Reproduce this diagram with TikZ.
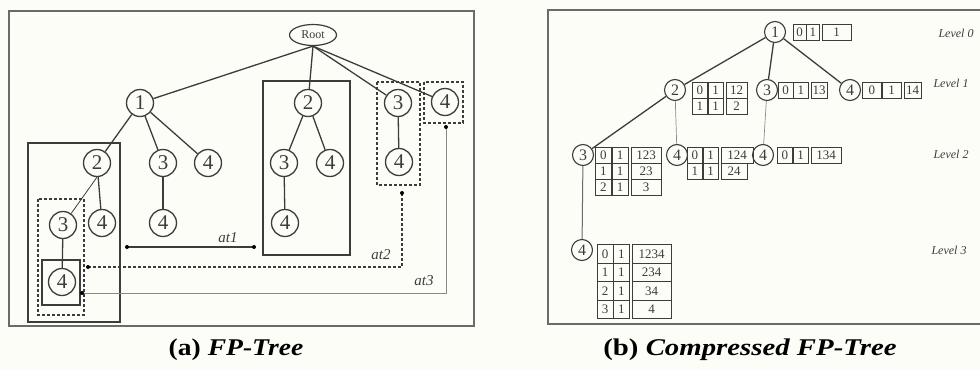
\documentclass[tikz,border=0pt]{standalone}
\usepackage{fontspec}
\setmainfont{Liberation Serif}
\usetikzlibrary{shapes.geometric}
\definecolor{lc}{HTML}{3C3C3C}
\definecolor{fc}{HTML}{6A6A6A}
\definecolor{tc}{HTML}{8A8A8A}
\definecolor{bg}{HTML}{FDFDF8}
\newcommand{\fprow}[8]{%
  \node[cell,minimum width=#7pt] (#1a) at (#2,#3) {#4};
  \node[cell,minimum width=#7pt] (#1b) at (#1a.east) {#5};
  \node[cell,minimum width=#8pt] (#1c) at ([xshift=2pt]#1b.east) {#6};
}
\begin{document}
\begin{tikzpicture}[x=1pt,y=-1pt,
  frame/.style={draw=fc,line width=1.6pt},
  edge/.style={draw=lc,line width=1.3pt},
  thinedge/.style={draw=tc,line width=0.7pt},
  fpn/.style={circle,draw=lc,line width=1.3pt,minimum size=27pt,inner sep=0pt,font=\fontsize{21}{21}\selectfont,text=lc},
  cn/.style={circle,draw=lc,line width=1.1pt,minimum size=21pt,inner sep=0pt,font=\fontsize{16}{16}\selectfont,text=lc},
  cell/.style={draw=lc,line width=0.8pt,minimum height=16pt,inner sep=0pt,anchor=west,font=\fontsize{13}{13}\selectfont,text=lc},
  sbox/.style={draw=lc,line width=1.2pt},
  dbox/.style={draw=lc,line width=1.1pt,dash pattern=on 3pt off 2pt},
  atlab/.style={font=\itshape\fontsize{15}{15}\selectfont,text=lc},
  lvl/.style={font=\itshape\fontsize{12}{12}\selectfont,text=lc,anchor=west},
  captext/.style={font=\bfseries\fontsize{24}{24}\selectfont,text=black},
  dotend/.style={circle,fill=black,inner sep=0pt,minimum size=4pt}]
\useasboundingbox (0,0) rectangle (980,370);
\clip (0,0) rectangle (980,370);
\fill[bg] (0,0) rectangle (980,370);

% ---------------- (a) FP-Tree ----------------
\draw[frame] (9,11) rectangle (474,326);
\node[ellipse,draw=lc,line width=1.2pt,minimum width=47pt,minimum height=21pt,inner sep=0pt,font=\fontsize{12}{12}\selectfont,text=lc] (root) at (313,35) {Root};
\node[fpn] (a1) at (140,103) {1};
\node[fpn] (a2) at (308,103) {2};
\node[fpn] (a3) at (398,103) {3};
\node[fpn] (a4) at (445,102) {4};
\node[fpn] (b2) at (97,163) {2};
\node[fpn] (b3) at (163,163) {3};
\node[fpn] (b4) at (208,163) {4};
\node[fpn] (c3) at (284,163) {3};
\node[fpn] (c4) at (330,163) {4};
\node[fpn] (d4) at (399,162) {4};
\node[fpn] (e3) at (63,225) {3};
\node[fpn] (e4) at (102,223) {4};
\node[fpn] (f4) at (163,223) {4};
\node[fpn] (g4) at (285,223) {4};
\node[fpn] (h4) at (62,282) {4};

\draw[edge] (root.south) -- (a1);
\draw[edge] (root.south) -- (a2);
\draw[edge] (root.south) -- (a3);
\draw[edge] (root.south) -- (a4);
\draw[edge] (a1) -- (b2);
\draw[edge] (a1) -- (b3);
\draw[edge] (a1) -- (b4);
\draw[thinedge,draw=lc,line width=0.8pt] (b2.south) -- (e3);
\draw[edge] (b2) -- (e4);
\draw[edge] (b3) -- (f4);
\draw[edge] (a2) -- (c3);
\draw[edge] (a2) -- (c4);
\draw[edge] (c3) -- (g4);
\draw[edge] (a3) -- (d4);
\draw[edge] (e3) -- (h4);

\draw[sbox] (28,143) rectangle (120,322);
\draw[dbox] (38,199) rectangle (84,315);
\draw[sbox] (42,260) rectangle (80,305);
\draw[sbox] (263,81) rectangle (350,255);
\draw[dbox] (377,82) rectangle (420,185);
\draw[dbox] (424,82) rectangle (463,123);

\coordinate (at1s) at (127,247);
\coordinate (at1e) at (254,247);
\coordinate (at2s) at (402,193);
\coordinate (at2e) at (88,267);
\coordinate (at3s) at (446,127);
\coordinate (at3e) at (82,293);
\draw[lc,line width=1.3pt] (at1s) -- (at1e);
\draw[lc,line width=1.1pt,dash pattern=on 3pt off 2pt] (at2s) |- (at2e);
\draw[tc,line width=1pt] (at3s) |- (at3e);
\foreach \p in {at1s,at1e,at2s,at2e,at3s,at3e} \node[dotend] at (\p) {};
\node[atlab] (l1) at (228,238) {at1};
\node[atlab] (l2) at (381,255) {at2};
\node[atlab] (l3) at (424,281) {at3};

\node[captext] (capa) at (236,350) {\scalebox{1.15}[1]{(a) \textit{FP-Tree}}};

% ---------------- (b) Compressed FP-Tree ----------------
\draw[frame] (548,10) rectangle (995,324);
\node[cn] (r1) at (775,32) {1};
\node[cn] (r2) at (675,90) {2};
\node[cn] (r3) at (767,90) {3};
\node[cn] (r4) at (850,90) {4};
\node[cn] (s3) at (583,155) {3};
\node[cn] (s4) at (677,155) {4};
\node[cn] (t4) at (763,155) {4};
\node[cn] (u4) at (582,250) {4};

\draw[edge] (r1) -- (r2);
\draw[edge] (r1) -- (r3);
\draw[edge] (r1) -- (r4);
\draw[edge] (r2) -- (s3);
\draw[thinedge] (r2) -- (s4);
\draw[thinedge] (r3) -- (t4);
\draw[edge,draw=fc,line width=1pt] (s3) -- (u4);

\fprow{ta}{793}{32}{0}{1}{1}{12.5}{29}
\fprow{tb}{692}{90}{0}{1}{12}{15}{21}
\fprow{tbb}{692}{106}{1}{1}{2}{15}{21}
\fprow{tc}{778}{90}{0}{1}{13}{14.5}{16}
\fprow{td}{862}{90}{0}{1}{14}{19}{17}
\fprow{te}{595}{155}{0}{1}{123}{16}{30}
\fprow{tee}{595}{171}{1}{1}{23}{16}{30}
\fprow{teee}{595}{187}{2}{1}{3}{16}{30}
\fprow{tf}{687}{155}{0}{1}{124}{15}{32}
\fprow{tff}{687}{171}{1}{1}{24}{15}{26}
\fprow{tg}{777}{155}{0}{1}{134}{15}{30}
\begin{scope}[cell/.append style={minimum height=18.5pt}]
\fprow{th}{597}{254}{0}{1}{1234}{15.5}{39}
\fprow{thh}{597}{272.5}{1}{1}{234}{15.5}{39}
\fprow{thhh}{597}{291}{2}{1}{34}{15.5}{39}
\fprow{thhhh}{597}{309.5}{3}{1}{4}{15.5}{39}
\end{scope}

\node[lvl] (lv0) at (935,33) {Level 0};
\node[lvl] (lv1) at (930,83) {Level 1};
\node[lvl] (lv2) at (930,154) {Level 2};
\node[lvl] (lv3) at (928,250) {Level 3};

\node[captext] (capb) at (750,350) {\scalebox{1.2}[1]{(b) \textit{Compressed FP-Tree}}};
\end{tikzpicture}
\end{document}
